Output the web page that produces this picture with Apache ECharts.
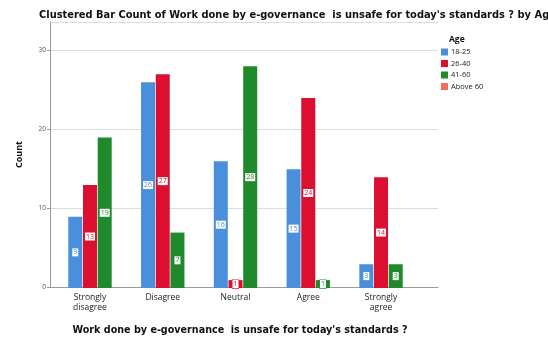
<!DOCTYPE html>
<html>
<head>
<meta charset="utf-8">
<script src="https://cdn.jsdelivr.net/npm/echarts@6/dist/echarts.min.js"></script>
<style>html,body{margin:0;padding:0;background:#fff}#c{width:548px;height:340px}</style>
</head>
<body>
<div id="c"></div>
<script>
// Response categories and counts per age group
var categories = ['Strongly\ndisagree', 'Disagree', 'Neutral', 'Agree', 'Strongly\nagree'];
var ageGroups = ['18-25', '26-40', '41-60', 'Above 60'];
var age18to25 = [9, 26, 16, 15, 3];
var age26to40 = [13, 27, 1, 24, 14];
var age41to60 = [19, 7, 28, 1, 3];
var yTicks = [0, 10, 20, 30];

var colors = ['#4a8fdc', '#dc0f30', '#1f8a2c', '#ec6f5a'];
var FONT = '"Open Sans", "DejaVu Sans", sans-serif';
var WIDE = '"DejaVu Sans", sans-serif';

function barSeries(name, data, color) {
  return {
    name: name,
    type: 'bar',
    xAxisIndex: 1,
    yAxisIndex: 1,
    data: data,
    barWidth: 14,
    barGap: '5%',
    itemStyle: { color: color },
    label: {
      show: true,
      position: 'inside',
      fontSize: 7,
      fontFamily: FONT,
      color: color,
      backgroundColor: '#fff',
      borderColor: color,
      borderWidth: 0.6,
      padding: [0, 1, 0, 1],
      lineHeight: 8
    }
  };
}

var chart = echarts.init(document.getElementById('c'), null, { renderer: 'canvas' });
chart.setOption({
  animation: false,
  backgroundColor: '#fff',
  title: [
    {
      text: 'Clustered Bar Count of Work done by e-governance  is unsafe for today\'s standards ? by Age',
      left: 34, top: 5,
      textStyle: { fontSize: 9.9, fontWeight: 'bold', color: '#111', fontFamily: WIDE }
    },
    {
      text: 'Age',
      left: 444, top: 30,
      textStyle: { fontSize: 8.5, fontWeight: 'bold', color: '#111', fontFamily: FONT }
    }
  ],
  legend: {
    orient: 'vertical',
    left: 436, top: 43,
    itemWidth: 7, itemHeight: 7, itemGap: 3.5,
    icon: 'rect',
    data: ageGroups,
    textStyle: { fontSize: 7.5, color: '#222', fontFamily: FONT, padding: [0, 0, 0, -2] }
  },
  grid: [
    { left: 50, right: 110, top: 22, bottom: 52 },
    { left: 53.6, right: 130.6, top: 22, bottom: 52 }
  ],
  xAxis: [
    {
      gridIndex: 0, type: 'value', min: 0, max: 1,
      axisLine: { show: true, lineStyle: { color: '#9a9a9a', width: 1 } },
      axisTick: { show: false }, axisLabel: { show: false }, splitLine: { show: false },
      name: 'Work done by e-governance  is unsafe for today\'s standards ?',
      nameLocation: 'middle', nameGap: 38,
      nameTextStyle: { fontSize: 9.6, fontWeight: 'bold', color: '#111', fontFamily: WIDE, padding: [0, 8, 0, 0] }
    },
    {
      gridIndex: 1, type: 'category', data: categories,
      axisLine: { show: false }, axisTick: { show: false },
      axisLabel: { fontSize: 8.5, color: '#222', fontFamily: FONT, margin: 5, lineHeight: 10, interval: 0 }
    }
  ],
  yAxis: [
    {
      gridIndex: 0, type: 'value', min: 0, max: 33.6, interval: 10,
      axisLine: { show: true, lineStyle: { color: '#9a9a9a' } },
      axisTick: { show: true, length: 3, lineStyle: { color: '#9a9a9a' } },
      axisLabel: {
        fontSize: 6.5, color: '#555', fontFamily: FONT, margin: 4, showMaxLabel: false,
        formatter: function (v) { return yTicks.indexOf(v) >= 0 ? String(v) : ''; }
      },
      splitLine: { show: true, lineStyle: { color: '#dcdcdc', width: 1 } },
      name: 'Count', nameLocation: 'middle', nameGap: 26,
      nameTextStyle: { fontSize: 9, fontWeight: 'bold', color: '#111', fontFamily: FONT }
    },
    {
      gridIndex: 1, type: 'value', min: 0, max: 33.6, interval: 10,
      axisLine: { show: false }, axisTick: { show: false }, axisLabel: { show: false },
      splitLine: { show: false }
    }
  ],
  series: [
    barSeries(ageGroups[0], age18to25, colors[0]),
    barSeries(ageGroups[1], age26to40, colors[1]),
    barSeries(ageGroups[2], age41to60, colors[2]),
    // Above 60 has no responses; kept as an empty series so it appears in the legend
    { name: ageGroups[3], type: 'line', xAxisIndex: 1, yAxisIndex: 1, data: [], itemStyle: { color: colors[3] } }
  ]
});
</script>
</body>
</html>
